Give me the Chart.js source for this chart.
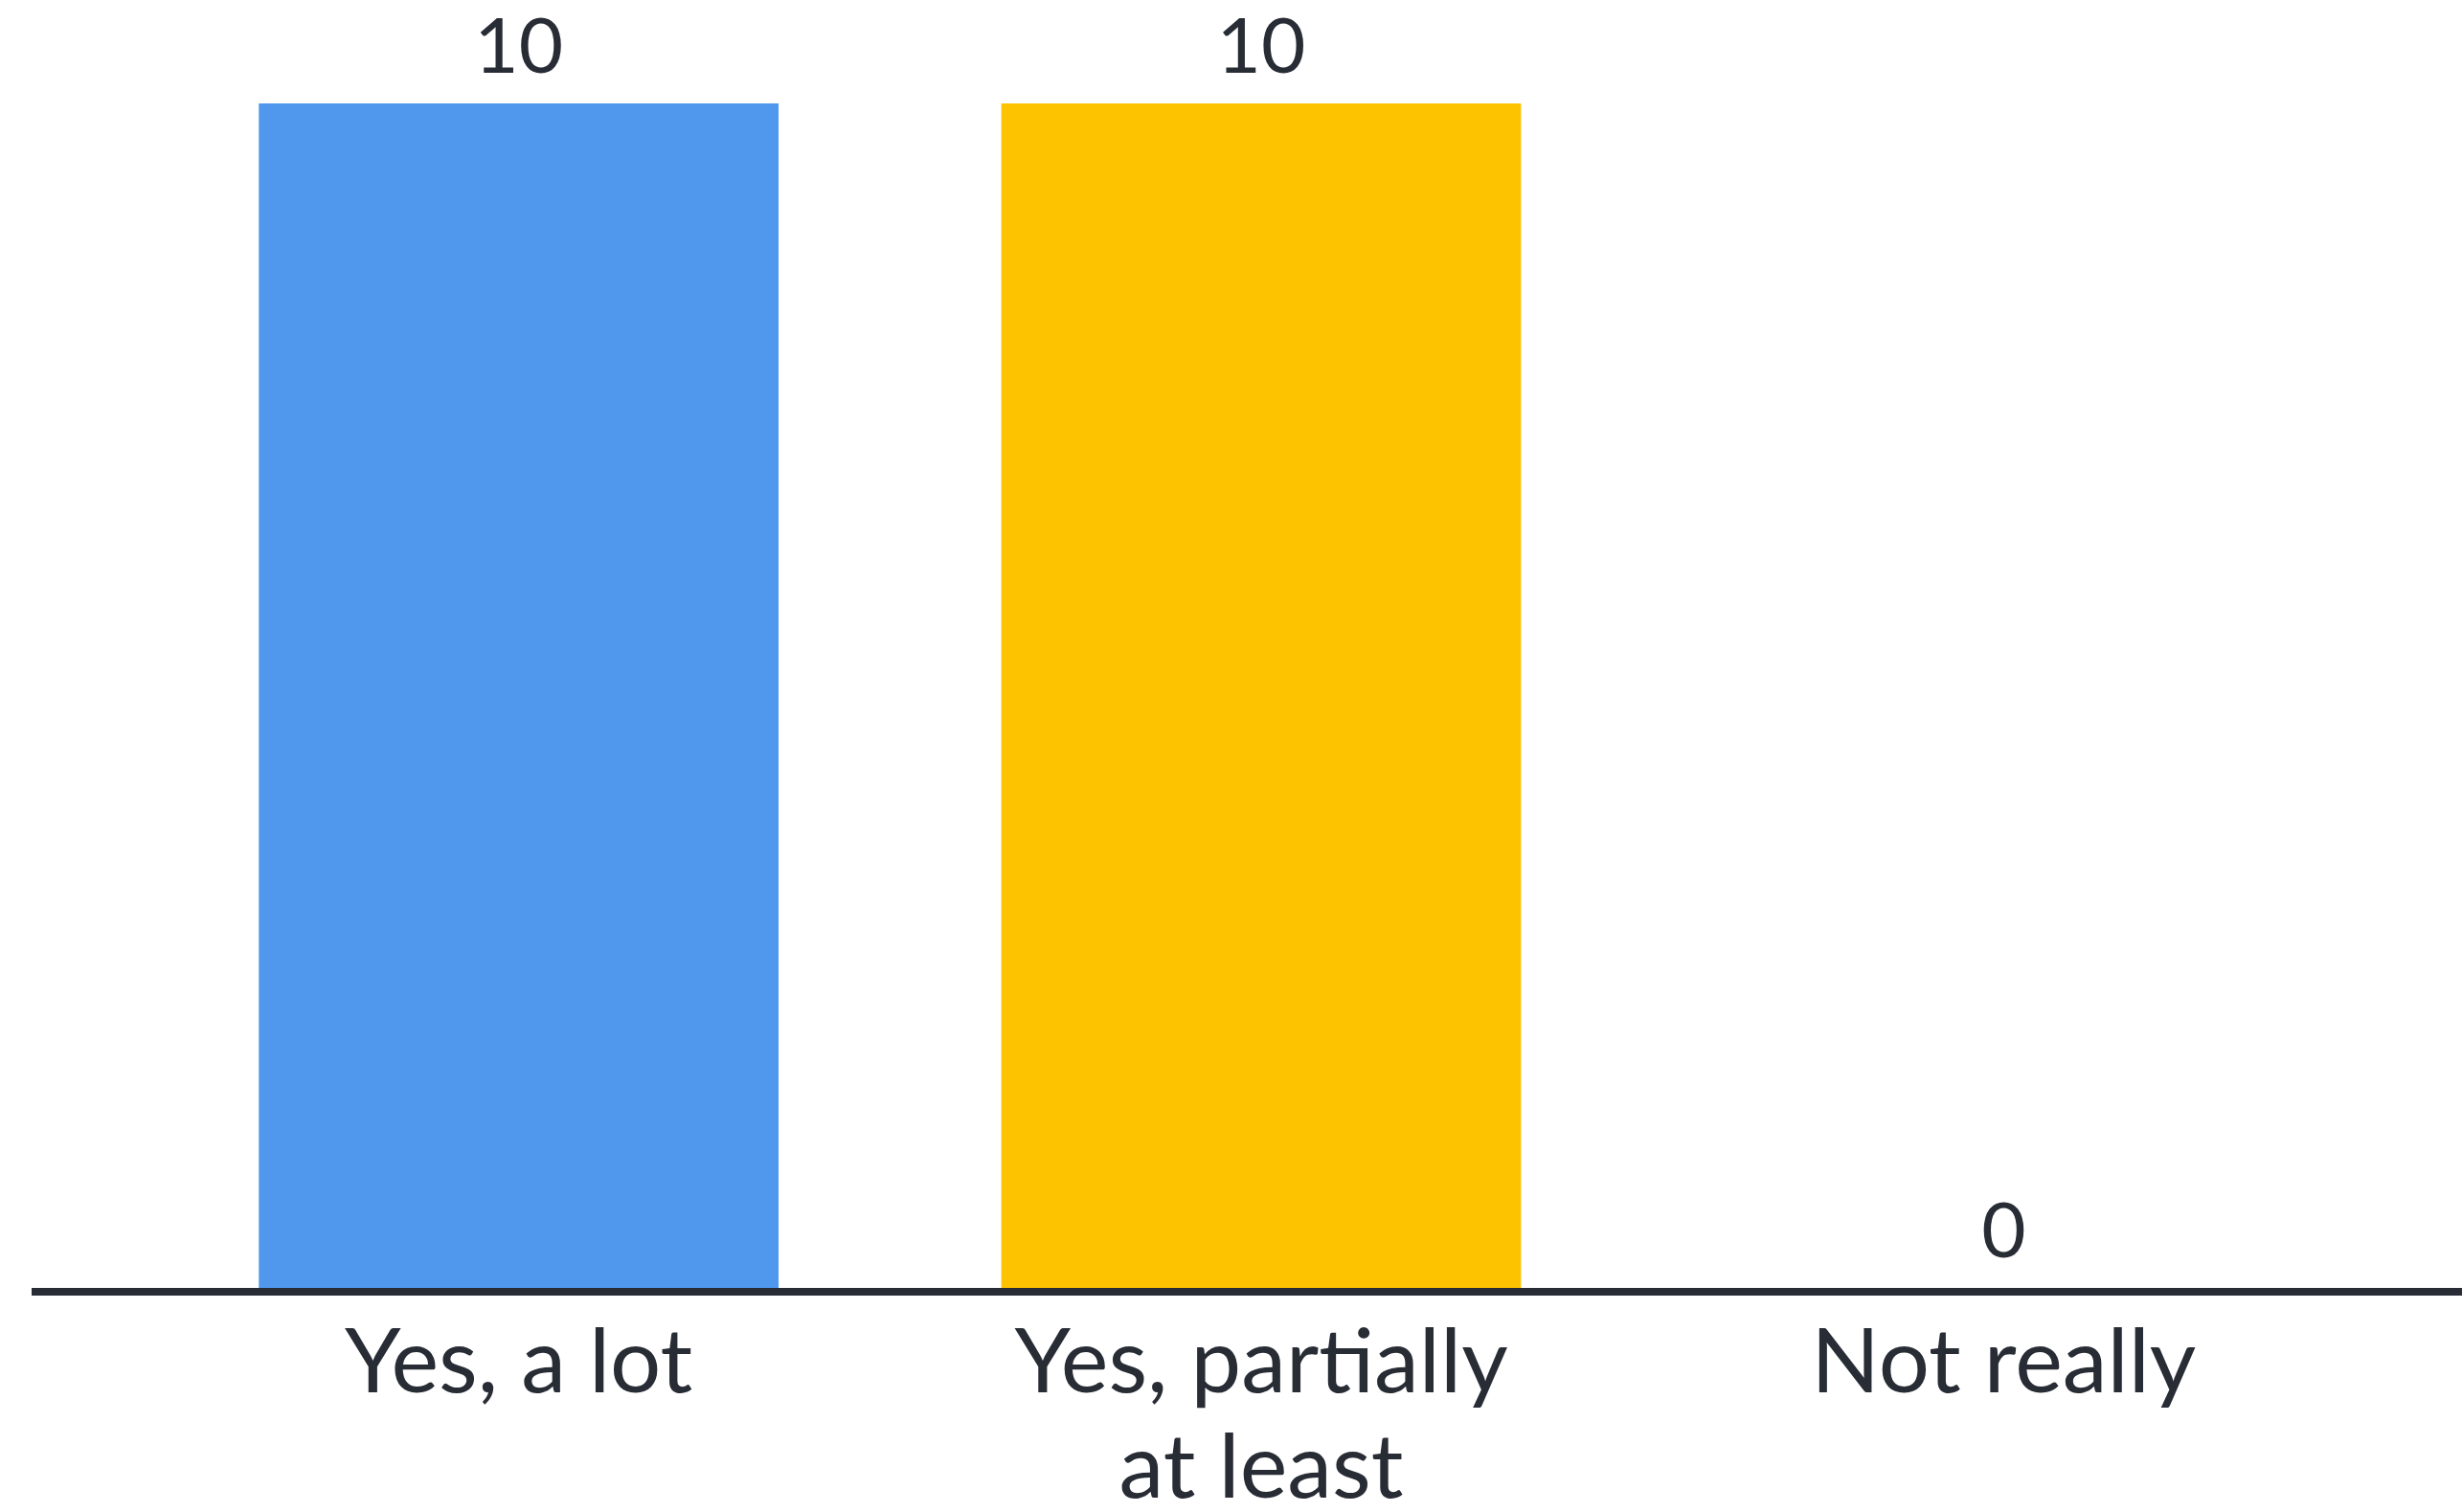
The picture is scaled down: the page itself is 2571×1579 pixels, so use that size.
<!DOCTYPE html>
<html>
<head>
<meta charset="utf-8">
<script src="https://cdn.jsdelivr.net/npm/chart.js@4"></script>
<style>
  html, body { margin: 0; padding: 0; background: #ffffff; overflow: hidden; }
  canvas { display: block; }
</style>
</head>
<body>
<canvas id="chart" width="2571" height="1613"></canvas>
<script>
const categories = [['Yes, a lot'], ['Yes, partially', 'at least'], ['Not really']];
const answers = [10, 10, 0];
const barColors = ['#4f98ee', '#fdc300', '#e74c3c'];

const ink = '#282c35';
const fontFamily = 'Lato, "Noto Sans", sans-serif';

// value labels above each bar
const valueLabels = {
  id: 'valueLabels',
  afterDatasetsDraw(chart) {
    const ctx = chart.ctx;
    const meta = chart.getDatasetMeta(0);
    ctx.save();
    ctx.fillStyle = ink;
    ctx.font = '80px ' + fontFamily;
    ctx.textAlign = 'center';
    ctx.textBaseline = 'bottom';
    meta.data.forEach((bar, i) => {
      ctx.fillText(String(answers[i]), bar.x, bar.y - 18);
    });
    ctx.restore();
  }
};

// baseline running the full width
const baseline = {
  id: 'baseline',
  afterDatasetsDraw(chart) {
    const ctx = chart.ctx;
    const y = chart.scales.y.getPixelForValue(0) + 4;
    ctx.save();
    ctx.strokeStyle = ink;
    ctx.lineWidth = 8;
    ctx.beginPath();
    ctx.moveTo(chart.chartArea.left - 121, y);
    ctx.lineTo(chart.width, y);
    ctx.stroke();
    ctx.restore();
  }
};

new Chart(document.getElementById('chart'), {
  type: 'bar',
  data: {
    labels: categories,
    datasets: [{
      data: answers,
      backgroundColor: barColors,
      borderWidth: 0,
      categoryPercentage: 1,
      barPercentage: 0.7
    }]
  },
  options: {
    responsive: false,
    animation: false,
    layout: { padding: { top: 108, left: 154, right: 91, bottom: 0 } },
    plugins: {
      legend: { display: false },
      tooltip: { enabled: false }
    },
    scales: {
      x: {
        grid: { display: false, drawTicks: false },
        border: { display: false },
        ticks: {
          color: ink,
          font: { family: fontFamily, size: 94, lineHeight: 1.17 },
          padding: 24,
          maxRotation: 0,
          autoSkip: false
        }
      },
      y: {
        display: false,
        min: 0,
        max: 10
      }
    }
  },
  plugins: [valueLabels, baseline]
});
</script>
</body>
</html>
